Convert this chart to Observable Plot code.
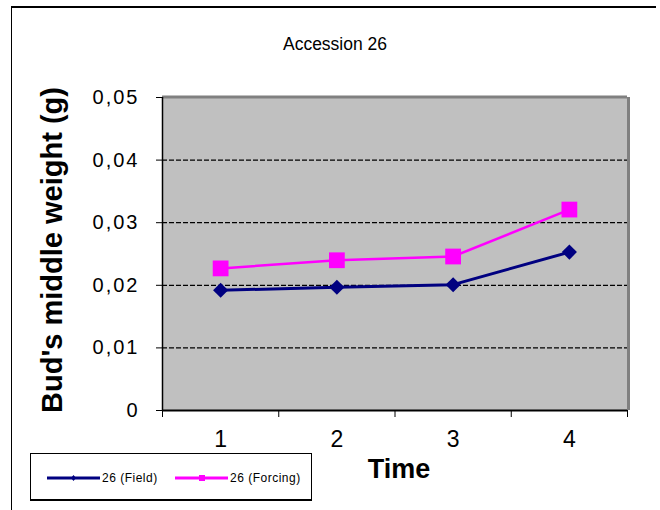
<!DOCTYPE html>
<html><head><meta charset="utf-8">
<script src="https://cdn.jsdelivr.net/npm/d3@7"></script>
<script src="https://cdn.jsdelivr.net/npm/@observablehq/plot@0.6"></script>
<style>
body{margin:0;background:#fff;}
#wrap{position:relative;width:660px;height:510px;font-family:Arial,"Liberation Sans",sans-serif;overflow:hidden;}
#wrap > svg{position:absolute;left:0;top:0;}
.ov{position:absolute;line-height:1;white-space:nowrap;color:#000;}
[aria-label="y-axis tick label"] text{letter-spacing:2px;}
</style></head><body><div id="wrap"></div>
<script>
const times = [1, 2, 3, 4];
const fieldValues = [0.0192, 0.0197, 0.0201, 0.0253];
const forcingValues = [0.0227, 0.0240, 0.0246, 0.0321];
const seriesNames = ["26 (Field)", "26 (Forcing)"];
const seriesColors = ["#000080", "#ff00ff"];
const yTicks = [0, 0.01, 0.02, 0.03, 0.04, 0.05];
const gridValues = [0.01, 0.02, 0.03, 0.04];
const titleText = "Accession 26";
const xLabelText = "Time";
const yLabelText = "Bud's middle weight (g)";

const field = times.map((t, i) => ({time: t, value: fieldValues[i]}));
const forcing = times.map((t, i) => ({time: t, value: forcingValues[i]}));
const boundaries = [0.5, 1.5, 2.5, 3.5, 4.5];

const chart = Plot.plot({
  width: 660, height: 510,
  marginLeft: 162, marginRight: 33, marginTop: 97, marginBottom: 100,
  style: {fontFamily: "Arial, 'Liberation Sans', sans-serif", background: "transparent", color: "#000"},
  x: {type: "linear", domain: [0.5, 4.5]},
  y: {domain: [0, 0.05]},
  marks: [
    Plot.frame({fill: "#c0c0c0", stroke: null}),
    Plot.ruleY(gridValues, {stroke: "#000", strokeWidth: 1.3, strokeDasharray: "5,2"}),
    Plot.ruleY([0.05], {stroke: "#808080", strokeWidth: 3, dy: -0.5}),
    Plot.ruleX([4.5], {stroke: "#808080", strokeWidth: 3, dx: 1}),
    Plot.ruleX([0.5], {stroke: "#000", strokeWidth: 1.5}),
    Plot.ruleY([0], {stroke: "#000", strokeWidth: 2}),
    Plot.axisY({ticks: yTicks, tickSize: 6, tickPadding: 17, fontSize: 20,
      tickFormat: d => d === 0 ? "0" : d.toFixed(2).replace(".", ","), label: null}),
    Plot.axisX({ticks: boundaries, tickSize: 7, tickFormat: () => "", label: null}),
    Plot.axisX({ticks: times, tickSize: 0, tickPadding: 20, fontSize: 23, tickFormat: d => String(d), label: null}),
    Plot.line(field, {x: "time", y: "value", stroke: seriesColors[0], strokeWidth: 3}),
    Plot.line(forcing, {x: "time", y: "value", stroke: seriesColors[1], strokeWidth: 2.5}),
    Plot.dot(field, {x: "time", y: "value", symbol: "diamond2", r: 6.8, fill: seriesColors[0], stroke: null}),
    Plot.dot(forcing, {x: "time", y: "value", symbol: "square", r: 8.9, fill: seriesColors[1], stroke: null})
  ]
});
const wrapEl = document.getElementById("wrap");
wrapEl.appendChild(chart);

// outer chart-area border (top and left)
const borderTop = document.createElement("div");
borderTop.style.cssText = "position:absolute;left:11px;top:6px;width:645px;height:0;border-top:2.5px solid #000;";
wrapEl.appendChild(borderTop);
const borderLeft = document.createElement("div");
borderLeft.style.cssText = "position:absolute;left:11px;top:6px;width:0;height:510px;border-left:1.5px solid #000;";
wrapEl.appendChild(borderLeft);

function addText(txt, css) {
  const d = document.createElement("div");
  d.className = "ov";
  d.textContent = txt;
  d.style.cssText += css;
  wrapEl.appendChild(d);
  return d;
}
addText(titleText, "left:335px;top:44.5px;transform:translate(-50%,-50%);font-size:17.5px;");
addText(xLabelText, "left:399px;top:469px;transform:translate(-50%,-50%);font-size:27px;font-weight:bold;");
addText(yLabelText, "left:51.5px;top:250px;transform:translate(-50%,-50%) rotate(-90deg);font-size:29px;font-weight:bold;");

// legend
const leg = document.createElement("div");
leg.style.cssText = "position:absolute;left:30px;top:453px;width:280px;height:45px;border:1px solid #000;border-bottom-width:2.5px;background:#fff;";
wrapEl.appendChild(leg);
const lsvg = d3.select(leg).append("svg").attr("width", 280).attr("height", 45).style("position", "absolute").style("left", 0).style("top", 0);
const itemX = [16, 144];
seriesNames.forEach((name, i) => {
  const g = lsvg.append("g").attr("transform", `translate(${itemX[i]},24)`);
  g.append("line").attr("x1", 0).attr("x2", 53).attr("y1", 0).attr("y2", 0)
    .attr("stroke", seriesColors[i]).attr("stroke-width", 3);
  if (i === 0) {
    g.append("path").attr("d", "M26.5,-3L29,0L26.5,3L24,0Z").attr("fill", seriesColors[i]);
  } else {
    g.append("rect").attr("x", 24).attr("y", -3).attr("width", 6).attr("height", 6).attr("fill", seriesColors[i]);
  }
  g.append("text").attr("x", 55).attr("y", 0).attr("dy", "0.35em")
    .attr("font-size", 12).attr("letter-spacing", "0.5px")
    .attr("font-family", "Arial, 'Liberation Sans', sans-serif").text(name);
});
</script>
</body></html>
